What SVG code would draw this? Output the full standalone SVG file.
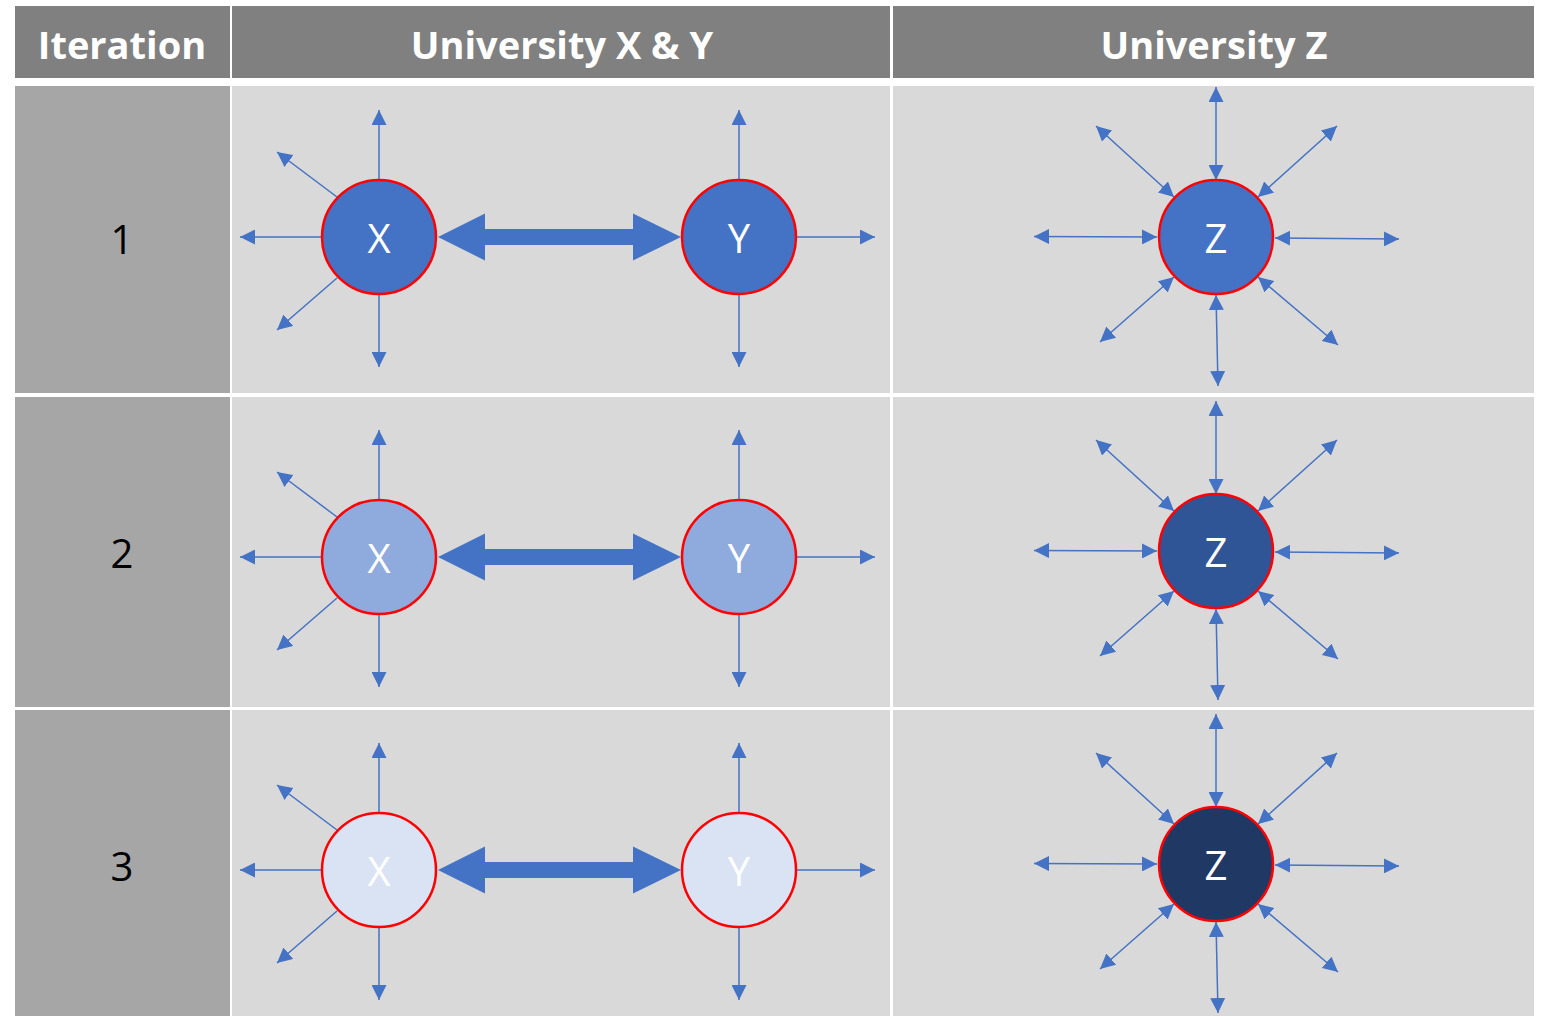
<svg xmlns="http://www.w3.org/2000/svg" width="1542" height="1016" viewBox="0 0 1542 1016">
<defs>
<marker id="ah" markerUnits="userSpaceOnUse" markerWidth="16" markerHeight="15" refX="15" refY="7.5" orient="auto-start-reverse">
<path d="M0,0 L15,7.5 L0,15 z" fill="#4472c4"/>
</marker>
<style>
.hd{fill:#808080}
.c1{fill:#a6a6a6}
.cb{fill:#d9d9d9}
.ht{font-family:"Open Sans","Noto Sans",sans-serif;font-weight:bold;font-size:38px;fill:#fff;text-anchor:middle}
.num{font-family:"Open Sans","Noto Sans",sans-serif;font-size:40px;fill:#000;text-anchor:middle}
.nt{font-family:"Open Sans","Noto Sans",sans-serif;font-size:40px;fill:#fff;text-anchor:middle}
.nd{stroke:#ff0000;stroke-width:2.5}
.a1{stroke:#4472c4;stroke-width:1.5;fill:none;marker-end:url(#ah)}
.a2{stroke:#4472c4;stroke-width:1.5;fill:none;marker-end:url(#ah);marker-start:url(#ah)}
.big{fill:#4472c4}
</style>
</defs>
<rect width="1542" height="1016" fill="#fff"/>
<g id="table">
<rect class="hd" x="15" y="6" width="215" height="72"/>
<rect class="hd" x="232" y="6" width="658" height="72"/>
<rect class="hd" x="893" y="6" width="641" height="72"/>
<rect class="c1" x="15" y="86" width="215" height="307"/>
<rect class="cb" x="232" y="86" width="658" height="307"/>
<rect class="cb" x="893" y="86" width="641" height="307"/>
<rect class="c1" x="15" y="397" width="215" height="310"/>
<rect class="cb" x="232" y="397" width="658" height="310"/>
<rect class="cb" x="893" y="397" width="641" height="310"/>
<rect class="c1" x="15" y="710" width="215" height="306"/>
<rect class="cb" x="232" y="710" width="658" height="306"/>
<rect class="cb" x="893" y="710" width="641" height="306"/>
<text class="ht" x="122" y="59">Iteration</text>
<text class="ht" x="562" y="59">University X &amp; Y</text>
<text class="ht" x="1214" y="59">University Z</text>
<text class="num" x="122" y="254">1</text>
<text class="num" x="122" y="568">2</text>
<text class="num" x="122" y="881">3</text>
</g>
<g id="connectors">
<line class="a1" x1="379" y1="181" x2="379" y2="110"/>
<line class="a1" x1="379" y1="293" x2="379" y2="367"/>
<line class="a1" x1="321" y1="237" x2="240" y2="237"/>
<line class="a1" x1="337" y1="197" x2="277" y2="152"/>
<line class="a1" x1="337" y1="278" x2="277" y2="330"/>
<line class="a1" x1="739" y1="181" x2="739" y2="110"/>
<line class="a1" x1="739" y1="293" x2="739" y2="367"/>
<line class="a1" x1="797" y1="237" x2="875" y2="237"/>
<polygon class="big" points="438,237 485,213.5 485,229 633,229 633,213.5 681,237 633,260.5 633,245 485,245 485,260.5"/>
<line class="a2" x1="1216" y1="180" x2="1216" y2="87"/>
<line class="a2" x1="1216" y1="295" x2="1218" y2="386"/>
<line class="a2" x1="1157" y1="237" x2="1034" y2="236.5"/>
<line class="a2" x1="1275" y1="238" x2="1399" y2="239"/>
<line class="a2" x1="1174" y1="197" x2="1096" y2="126"/>
<line class="a2" x1="1258" y1="197" x2="1337" y2="126"/>
<line class="a2" x1="1174" y1="277" x2="1100" y2="342"/>
<line class="a2" x1="1258" y1="277" x2="1338" y2="345"/>
<line class="a1" x1="379" y1="501" x2="379" y2="430"/>
<line class="a1" x1="379" y1="613" x2="379" y2="687"/>
<line class="a1" x1="321" y1="557" x2="240" y2="557"/>
<line class="a1" x1="337" y1="517" x2="277" y2="472"/>
<line class="a1" x1="337" y1="598" x2="277" y2="650"/>
<line class="a1" x1="739" y1="501" x2="739" y2="430"/>
<line class="a1" x1="739" y1="613" x2="739" y2="687"/>
<line class="a1" x1="797" y1="557" x2="875" y2="557"/>
<polygon class="big" points="438,557 485,533.5 485,549 633,549 633,533.5 681,557 633,580.5 633,565 485,565 485,580.5"/>
<line class="a2" x1="1216" y1="494" x2="1216" y2="401"/>
<line class="a2" x1="1216" y1="609" x2="1218" y2="700"/>
<line class="a2" x1="1157" y1="551" x2="1034" y2="550.5"/>
<line class="a2" x1="1275" y1="552" x2="1399" y2="553"/>
<line class="a2" x1="1174" y1="511" x2="1096" y2="440"/>
<line class="a2" x1="1258" y1="511" x2="1337" y2="440"/>
<line class="a2" x1="1174" y1="591" x2="1100" y2="656"/>
<line class="a2" x1="1258" y1="591" x2="1338" y2="659"/>
<line class="a1" x1="379" y1="814" x2="379" y2="743"/>
<line class="a1" x1="379" y1="926" x2="379" y2="1000"/>
<line class="a1" x1="321" y1="870" x2="240" y2="870"/>
<line class="a1" x1="337" y1="830" x2="277" y2="785"/>
<line class="a1" x1="337" y1="911" x2="277" y2="963"/>
<line class="a1" x1="739" y1="814" x2="739" y2="743"/>
<line class="a1" x1="739" y1="926" x2="739" y2="1000"/>
<line class="a1" x1="797" y1="870" x2="875" y2="870"/>
<polygon class="big" points="438,870 485,846.5 485,862 633,862 633,846.5 681,870 633,893.5 633,878 485,878 485,893.5"/>
<line class="a2" x1="1216" y1="807" x2="1216" y2="714"/>
<line class="a2" x1="1216" y1="922" x2="1218" y2="1013"/>
<line class="a2" x1="1157" y1="864" x2="1034" y2="863.5"/>
<line class="a2" x1="1275" y1="865" x2="1399" y2="866"/>
<line class="a2" x1="1174" y1="824" x2="1096" y2="753"/>
<line class="a2" x1="1258" y1="824" x2="1337" y2="753"/>
<line class="a2" x1="1174" y1="904" x2="1100" y2="969"/>
<line class="a2" x1="1258" y1="904" x2="1338" y2="972"/>
</g>
<g id="x1"><circle class="nd" cx="379" cy="237" r="57" fill="#4472c4"/><text class="nt" x="379" y="253">X</text></g>
<g id="y1"><circle class="nd" cx="739" cy="237" r="57" fill="#4472c4"/><text class="nt" x="739" y="253">Y</text></g>
<g id="z1"><circle class="nd" cx="1216" cy="237" r="57" fill="#4472c4"/><text class="nt" x="1216" y="253">Z</text></g>
<g id="x2"><circle class="nd" cx="379" cy="557" r="57" fill="#8faadc"/><text class="nt" x="379" y="573">X</text></g>
<g id="y2"><circle class="nd" cx="739" cy="557" r="57" fill="#8faadc"/><text class="nt" x="739" y="573">Y</text></g>
<g id="z2"><circle class="nd" cx="1216" cy="551" r="57" fill="#2f5597"/><text class="nt" x="1216" y="567">Z</text></g>
<g id="x3"><circle class="nd" cx="379" cy="870" r="57" fill="#dae3f3"/><text class="nt" x="379" y="886">X</text></g>
<g id="y3"><circle class="nd" cx="739" cy="870" r="57" fill="#dae3f3"/><text class="nt" x="739" y="886">Y</text></g>
<g id="z3"><circle class="nd" cx="1216" cy="864" r="57" fill="#1f3864"/><text class="nt" x="1216" y="880">Z</text></g>
</svg>
